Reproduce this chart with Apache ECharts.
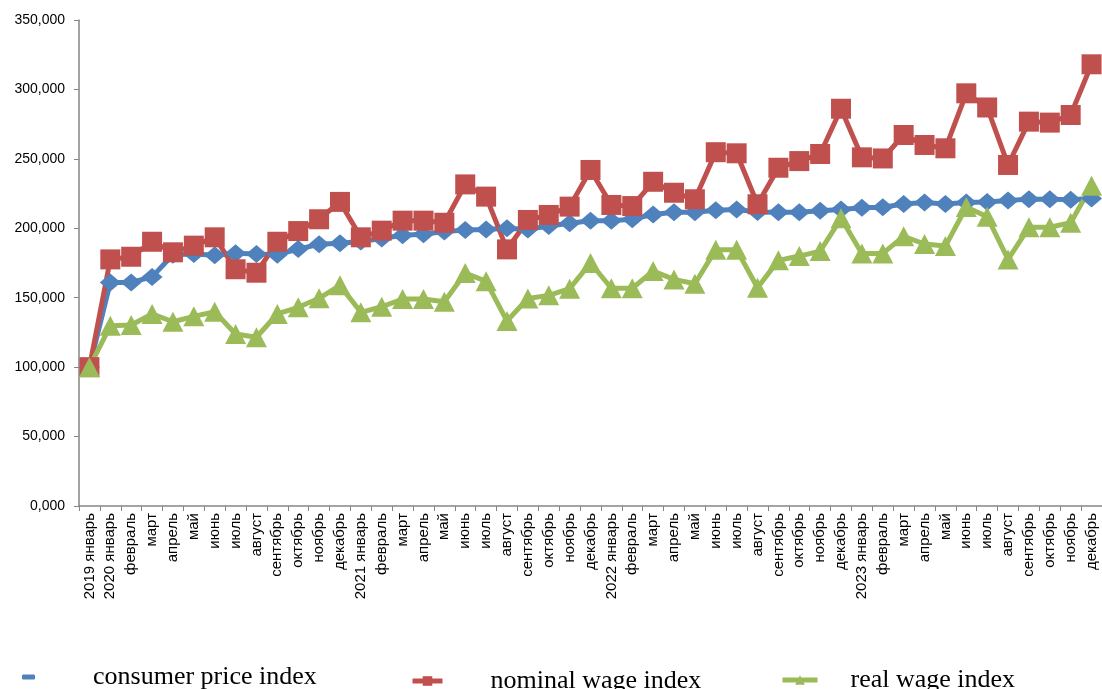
<!DOCTYPE html>
<html>
<head>
<meta charset="utf-8">
<script src="https://cdn.jsdelivr.net/npm/echarts@6.0.0/dist/echarts.min.js"></script>
<style>
  html, body { margin: 0; padding: 0; background: #fff; }
  #chart { width: 1102px; height: 689px; }
</style>
</head>
<body>
<div id="chart"></div>
<script>
// months: 2019 январь, then 2020-2023 by month
const months = ['январь', 'февраль', 'март', 'апрель', 'май', 'июнь', 'июль', 'август', 'сентябрь', 'октябрь', 'ноябрь', 'декабрь']
const categories = ['2019 январь']
;[2020, 2021, 2022, 2023].forEach(function (y) {
  months.forEach(function (m, i) {
    categories.push(i === 0 ? y + ' ' + m : m)
  })
})

const cpi = [
  100,
  161.0, 161.0, 165.0, 181.0, 181.5, 180.5, 182.0, 181.5, 181.0, 185.0, 188.5, 189.3,
  190.5, 192.7, 195.0, 195.7, 197.6, 198.8, 199.2, 200.0, 199.2, 201.6, 203.6, 205.5,
  205.5, 206.5, 210.0, 211.5, 211.5, 213.0, 213.6, 211.8, 211.5, 211.5, 212.7, 213.6,
  214.8, 215.2, 217.5, 218.5, 217.5, 218.5, 219.0, 220.0, 221.0, 221.0, 220.5, 221.5
]
const nominalWage = [
  100,
  177.6, 179.5, 190.3, 182.7, 187.5, 193.5, 170.5, 168.0, 190.3, 198.0, 206.5, 219.0,
  193.5, 198.3, 205.5, 205.5, 204.0, 231.6, 222.8, 184.8, 206.0, 209.6, 215.6, 242.0,
  216.8, 216.0, 233.5, 225.6, 220.9, 254.8, 254.0, 217.3, 243.6, 248.4, 253.5, 286.1,
  251.1, 250.3, 267.2, 260.0, 257.6, 297.2, 287.0, 245.6, 276.8, 276.1, 281.6, 318.1
]
const realWage = [
  100,
  129.8, 130.3, 138.3, 132.7, 136.6, 139.9, 123.9, 121.5, 138.3, 143.1, 149.6, 158.9,
  139.5, 143.5, 149.0, 149.0, 147.1, 167.8, 161.8, 133.2, 149.5, 151.7, 156.5, 175.0,
  156.8, 156.8, 169.2, 163.2, 160.1, 184.6, 184.6, 157.2, 176.9, 180.0, 183.6, 207.2,
  181.9, 181.9, 194.2, 188.7, 187.2, 215.3, 208.3, 177.6, 200.7, 200.7, 204.0, 230.7
]
const yTicks = { min: 0, max: 350, step: 50 }

const axisColor = '#868686'
const myChart = echarts.init(document.getElementById('chart'), null, { renderer: 'canvas' })

// one legend per item so each can sit where it is in the picture
function legendAt(name, left, top, iw, ih, gap, icon) {
  const l = {
    data: [name],
    left: left,
    top: top,
    padding: 0,
    selectedMode: false,
    itemWidth: iw,
    itemHeight: ih,
    lineStyle: { width: 5 },
    textStyle: {
      fontFamily: 'Liberation Serif',
      fontSize: 26,
      color: '#000',
      padding: [0, 0, 0, gap]
    }
  }
  if (icon) l.icon = icon
  return l
}

const option = {
  animation: false,
  grid: { left: 79, right: 0, top: 20, bottom: 183, containLabel: false },
  legend: [
    legendAt('consumer price index', 22, 664, 13, 5, 53, 'roundRect'),
    legendAt('nominal wage index', 410, 668, 30, 12, 43),
    legendAt('real wage index', 780, 667, 35, 12, 28)
  ],
  xAxis: {
    type: 'category',
    data: categories,
    boundaryGap: true,
    axisLine: { lineStyle: { color: axisColor, width: 1.5 } },
    axisTick: { show: true, length: 5, lineStyle: { color: axisColor } },
    axisLabel: {
      interval: 0,
      rotate: 90,
      margin: 7,
      fontFamily: 'Liberation Sans',
      fontSize: 15,
      color: '#000'
    },
    splitLine: { show: false }
  },
  yAxis: {
    type: 'value',
    min: yTicks.min,
    max: yTicks.max,
    interval: yTicks.step,
    axisLine: { show: true, lineStyle: { color: axisColor, width: 1.5 } },
    axisTick: { show: true, length: 5, lineStyle: { color: axisColor } },
    axisLabel: {
      margin: 14,
      fontFamily: 'Liberation Sans',
      fontSize: 14,
      color: '#000',
      formatter: function (v) { return v.toFixed(3).replace('.', ',') }
    },
    splitLine: { show: false }
  },
  series: [
    {
      name: 'consumer price index',
      type: 'line',
      data: cpi,
      symbol: 'diamond',
      symbolSize: [21, 18],
      lineStyle: { color: '#4f81bd', width: 5 },
      itemStyle: { color: '#4f81bd' }
    },
    {
      name: 'nominal wage index',
      type: 'line',
      data: nominalWage,
      symbol: 'rect',
      symbolSize: 20,
      lineStyle: { color: '#c0504d', width: 5 },
      itemStyle: { color: '#c0504d' }
    },
    {
      name: 'real wage index',
      type: 'line',
      data: realWage,
      symbol: 'triangle',
      symbolSize: [21, 20],
      lineStyle: { color: '#9bbb59', width: 5 },
      itemStyle: { color: '#9bbb59' }
    }
  ]
}
myChart.setOption(option)
</script>
</body>
</html>
